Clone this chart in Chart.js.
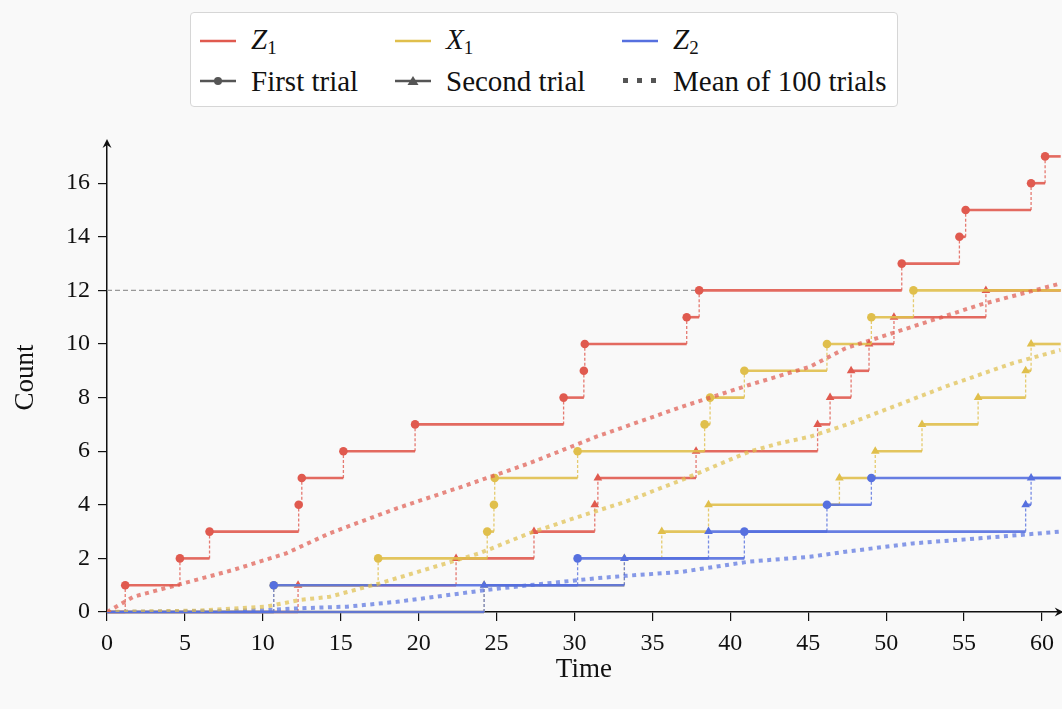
<!DOCTYPE html>
<html>
<head>
<meta charset="utf-8">
<script src="https://cdn.jsdelivr.net/npm/chart.js@4.4.1/dist/chart.umd.min.js"></script>
<style>
  html, body { margin: 0; padding: 0; background: #f9f9f9; }
  #wrap { position: relative; width: 1062px; height: 709px; overflow: hidden; }
  #legend {
    position: absolute; left: 190px; top: 12px; width: 708px; height: 95px;
    box-sizing: border-box; background: #fff; border: 1px solid #d6d6d6; border-radius: 4px;
    font-family: 'Liberation Serif', serif; font-size: 29px; color: #111;
  }
  .item { position: absolute; height: 30px; display: flex; align-items: center; white-space: nowrap; }
  .item svg { margin-right: 15px; }
  .item sub { font-size: 19px; vertical-align: -5px; }
</style>
</head>
<body>
<div id="wrap">
  <canvas id="chart" width="1062" height="709"></canvas>
  <div id="legend">
    <div class="item" style="left:9px;top:13px"><svg width="36" height="12"><line x1="0" y1="6" x2="36" y2="6" stroke="#e05a4f" stroke-width="2.5"/></svg><span><i>Z</i><sub>1</sub></span></div>
    <div class="item" style="left:204px;top:13px"><svg width="36" height="12"><line x1="0" y1="6" x2="36" y2="6" stroke="#e0bf4c" stroke-width="2.5"/></svg><span><i>X</i><sub>1</sub></span></div>
    <div class="item" style="left:431px;top:13px"><svg width="36" height="12"><line x1="0" y1="6" x2="36" y2="6" stroke="#5670df" stroke-width="2.5"/></svg><span><i>Z</i><sub>2</sub></span></div>
    <div class="item" style="left:9px;top:53px"><svg width="36" height="12"><line x1="0" y1="6" x2="36" y2="6" stroke="#555" stroke-width="2.5"/><circle cx="18" cy="6" r="4" fill="#555"/></svg><span>First trial</span></div>
    <div class="item" style="left:204px;top:53px"><svg width="36" height="12"><line x1="0" y1="6" x2="36" y2="6" stroke="#555" stroke-width="2.5"/><polygon points="18,1 23.5,10 12.5,10" fill="#555"/></svg><span>Second trial</span></div>
    <div class="item" style="left:431px;top:53px"><svg width="36" height="12"><rect x="1" y="3" width="5" height="5" fill="#555"/><rect x="15" y="3" width="5" height="5" fill="#555"/><rect x="29" y="3" width="5" height="5" fill="#555"/></svg><span>Mean of 100 trials</span></div>
  </div>
</div>
<script>
// Axis ranges
const X_MAX = 61.2;
const Y_MAX = 17.5;
const xTickStep = 5;
const yTickStep = 2;

// Jump times: entry k is the time at which the count goes from k to k+1
const z1First  = [1.17, 4.68, 6.58, 12.3, 12.5, 15.17, 19.77, 29.3, 30.6, 30.66, 37.2, 38.0, 51.0, 54.7, 55.1, 59.3, 60.2];
const z1Second = [12.26, 22.4, 27.4, 31.3, 31.5, 37.8, 45.6, 46.4, 47.75, 48.9, 50.5, 56.4];
const x1First  = [10.7, 17.4, 24.4, 24.83, 24.88, 30.2, 38.35, 38.7, 40.9, 46.2, 49.05, 51.75];
const x1Second = [24.2, 33.2, 35.6, 38.6, 47.0, 49.3, 52.3, 55.9, 58.95, 59.3];
const z2First  = [10.7, 30.2, 40.9, 46.2, 49.05];
const z2Second = [24.2, 33.2, 38.6, 58.95, 59.3];

// Mean of 100 trials
const meanZ1Time = [0, 1.7, 4.9, 8.1, 11.5, 14.3, 18.6, 22.8, 27.1, 31.4, 36.9, 41.2, 45.1, 47.4, 51.7, 56.0, 61.2];
const meanZ1     = [0, 0.57, 1.07, 1.57, 2.19, 2.94, 3.87, 4.68, 5.55, 6.54, 7.66, 8.47, 9.15, 9.84, 10.65, 11.46, 12.26];
const meanX1Time = [0, 5.7, 10.2, 12.4, 14.3, 17.5, 20.7, 23.9, 27.1, 30.3, 33.3, 36.9, 41.2, 43.1, 45.1, 47.4, 51.3, 53.8, 58.1, 61.2];
const meanX1     = [0, 0.05, 0.2, 0.45, 0.57, 1.07, 1.63, 2.19, 2.94, 3.56, 4.12, 4.93, 5.98, 6.29, 6.54, 6.98, 7.85, 8.41, 9.28, 9.78];
const meanZ2Time = [0, 6.6, 10.2, 12.4, 15.4, 18.6, 22.8, 24.3, 27.1, 31.4, 33.3, 36.9, 41.2, 45.1, 47.4, 51.7, 56.0, 61.2];
const meanZ2     = [0, 0.03, 0.07, 0.14, 0.2, 0.38, 0.7, 0.82, 1.0, 1.26, 1.35, 1.5, 1.88, 2.06, 2.25, 2.56, 2.75, 3.0];

// Threshold reference line
const threshold = 12;
const thresholdTime = 38.0;

const RED = '#e05a4f', YELLOW = '#e0bf4c', BLUE = '#5670df';
const FONT = "'Liberation Serif', serif";

function steps(jumps) {
    const pts = [{x: 0, y: 0}];
    jumps.forEach((t, i) => {
        pts.push({x: t, y: i});
        pts.push({x: t, y: i + 1, m: true}); // marker on top of each rise
    });
    pts.push({x: X_MAX, y: jumps.length});
    return pts;
}

function fade(hex, a) {
    const n = parseInt(hex.slice(1), 16);
    return `rgba(${n >> 16}, ${(n >> 8) & 255}, ${n & 255}, ${a})`;
}

const isRise = c => c.p0.parsed.x === c.p1.parsed.x;

function trial(label, jumps, color, style, order) {
    return {
        label: label,
        data: steps(jumps),
        borderColor: fade(color, 0.9),
        borderWidth: 2.6,
        pointStyle: style,
        pointRadius: c => (c.raw && c.raw.m) ? (style === 'triangle' ? 5 : 4.3) : 0,
        pointBackgroundColor: color,
        pointBorderWidth: 0,
        clip: false,
        segment: {
            borderDash: c => isRise(c) ? [3, 2] : undefined,
            borderWidth: c => isRise(c) ? 1.3 : undefined,
            borderColor: c => isRise(c) ? fade(color, 0.8) : undefined
        },
        order: order
    };
}

function mean(label, times, values, color, order) {
    return {
        label: label,
        data: times.map((t, i) => ({x: t, y: values[i]})),
        borderColor: fade(color, 0.7),
        borderWidth: 4,
        borderDash: [4, 4.5],
        borderCapStyle: 'butt',
        pointRadius: 0,
        order: order
    };
}

// Arrow heads at the ends of both axes
const axisArrows = {
    id: 'axisArrows',
    afterDraw(chart) {
        const {ctx, chartArea: a} = chart;
        const yb = chart.scales.y.getPixelForValue(0);
        ctx.save();
        ctx.fillStyle = '#111';
        ctx.beginPath();
        ctx.moveTo(a.left, a.top - 4);
        ctx.lineTo(a.left - 4.5, a.top + 5);
        ctx.lineTo(a.left, a.top + 2);
        ctx.lineTo(a.left + 4.5, a.top + 5);
        ctx.closePath();
        ctx.fill();
        ctx.beginPath();
        ctx.moveTo(a.right + 3, yb);
        ctx.lineTo(a.right - 6, yb - 4.5);
        ctx.lineTo(a.right - 3, yb);
        ctx.lineTo(a.right - 6, yb + 4.5);
        ctx.closePath();
        ctx.fill();
        ctx.restore();
    }
};

const ctx = document.getElementById('chart').getContext('2d');

const chart = new Chart(ctx, {
    type: 'line',
    data: {
        datasets: [
            mean('Z1 mean', meanZ1Time, meanZ1, RED, 0),
            mean('X1 mean', meanX1Time, meanX1, YELLOW, 0),
            mean('Z2 mean', meanZ2Time, meanZ2, BLUE, 0),
            trial('Z2 first', z2First, BLUE, 'circle', 1),
            trial('Z2 second', z2Second, BLUE, 'triangle', 2),
            trial('X1 first', x1First, YELLOW, 'circle', 3),
            trial('X1 second', x1Second, YELLOW, 'triangle', 4),
            trial('Z1 first', z1First, RED, 'circle', 5),
            trial('Z1 second', z1Second, RED, 'triangle', 6),
            {
                label: 'threshold',
                data: [{x: 0, y: threshold}, {x: thresholdTime, y: threshold}],
                borderColor: '#999',
                borderWidth: 1.3,
                borderDash: [5, 3],
                pointRadius: 0,
                order: 7
            }
        ]
    },
    options: {
        responsive: false,
        animation: false,
        layout: { padding: { top: 143, right: 0, left: 0, bottom: 0 } },
        plugins: { legend: { display: false }, tooltip: { enabled: false } },
        scales: {
            x: {
                type: 'linear',
                min: 0,
                max: X_MAX,
                ticks: {
                    stepSize: xTickStep,
                    includeBounds: false,
                    maxRotation: 0,
                    color: '#111',
                    padding: 8,
                    font: { family: FONT, size: 24 }
                },
                grid: { drawOnChartArea: false, drawTicks: true, tickLength: 9, color: '#111', lineWidth: 1.2 },
                border: { color: '#111', width: 1.5 },
                title: {
                    display: true,
                    text: 'Time',
                    color: '#111',
                    font: { family: FONT, size: 27 },
                    padding: { top: 0, bottom: 23 }
                },
                afterFit: s => { s.height = 97; }
            },
            y: {
                min: 0,
                max: Y_MAX,
                ticks: {
                    stepSize: yTickStep,
                    includeBounds: false,
                    color: '#111',
                    padding: 8,
                    font: { family: FONT, size: 24 }
                },
                grid: { drawOnChartArea: false, drawTicks: true, tickLength: 9, color: '#111', lineWidth: 1.2 },
                border: { color: '#111', width: 1.5 },
                title: {
                    display: true,
                    text: 'Count',
                    color: '#111',
                    font: { family: FONT, size: 27 },
                    padding: { top: 10, bottom: 0 }
                },
                afterFit: s => { s.width = 107; }
            }
        }
    },
    plugins: [axisArrows]
});
</script>
</body>
</html>
